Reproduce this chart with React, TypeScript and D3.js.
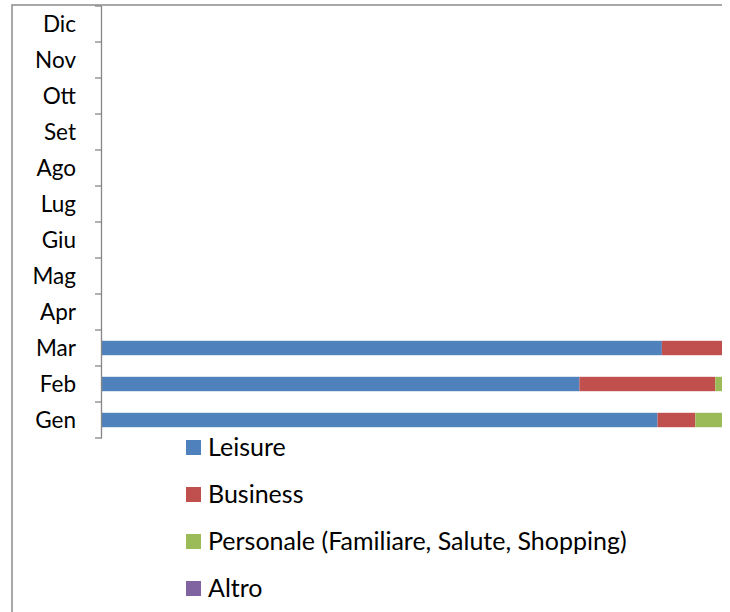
import React, { useRef, useEffect } from 'react';
import * as d3 from 'd3';

const months = ['Gen', 'Feb', 'Mar', 'Apr', 'Mag', 'Giu', 'Lug', 'Ago', 'Set', 'Ott', 'Nov', 'Dic'];
const seriesNames = ['Leisure', 'Business', 'Personale (Familiare, Salute, Shopping)', 'Altro'];
const seriesColors = ['#4f81bd', '#c0504d', '#9bbb59', '#8064a2'];

// quote per mese (solo i primi tre mesi hanno dati)
const leisure = [89.6, 77.0, 90.3, 0, 0, 0, 0, 0, 0, 0, 0, 0];
const business = [6.1, 21.9, 9.7, 0, 0, 0, 0, 0, 0, 0, 0, 0];
const personale = [4.3, 1.1, 0, 0, 0, 0, 0, 0, 0, 0, 0, 0];
const altro = [0, 0, 0, 0, 0, 0, 0, 0, 0, 0, 0, 0];

const WIDTH = 730;
const HEIGHT = 612;
const FONT = 'Lato, "Open Sans", sans-serif';

const App: React.FC = () => {
  const svgRef = useRef<SVGSVGElement>(null);

  useEffect(() => {
    if (!svgRef.current) return;
    const svg = d3.select(svgRef.current);
    svg.selectAll('*').remove();

    const values = [leisure, business, personale, altro];
    const rows = months.map((m, i) => {
      const r: any = { month: m };
      seriesNames.forEach((s, j) => (r[s] = values[j][i]));
      return r;
    });
    // normalizza a 100%
    rows.forEach(r => {
      const tot = d3.sum(seriesNames, s => r[s]);
      seriesNames.forEach(s => (r[s] = tot > 0 ? r[s] / tot : 0));
    });

    const stacked = d3.stack<any>().keys(seriesNames)(rows);

    const x = d3.scaleLinear().domain([0, 1]).range([102, 722]);
    const y = d3.scaleBand()
      .domain([...months].reverse())
      .range([6, 438])
      .paddingInner(0.6)
      .paddingOuter(0.3);

    // bordo del grafico
    svg.append('path')
      .attr('d', `M12,${HEIGHT} L12,5 L722,5`)
      .attr('fill', 'none')
      .attr('stroke', '#8c8c8c')
      .attr('stroke-width', 1.5);

    svg.append('g')
      .selectAll('g')
      .data(stacked)
      .join('g')
      .attr('fill', (_, i) => seriesColors[i])
      .selectAll('rect')
      .data(d => d)
      .join('rect')
      .attr('x', d => x(d[0]))
      .attr('width', d => x(d[1]) - x(d[0]))
      .attr('y', d => y(d.data.month)!)
      .attr('height', y.bandwidth());

    // asse y
    const axis = svg.append('g');
    axis.append('line')
      .attr('x1', 101.5).attr('x2', 101.5)
      .attr('y1', 6).attr('y2', 438.5)
      .attr('stroke', '#868686').attr('stroke-width', 1.3);
    const step = y.step();
    axis.selectAll('line.tick')
      .data(d3.range(months.length + 1))
      .join('line')
      .attr('class', 'tick')
      .attr('x1', 95).attr('x2', 101.5)
      .attr('y1', i => 6 + i * step)
      .attr('y2', i => 6 + i * step)
      .attr('stroke', '#868686').attr('stroke-width', 1.3);
    axis.selectAll('text')
      .data(months)
      .join('text')
      .attr('x', 76)
      .attr('y', m => y(m)! + y.bandwidth() / 2)
      .attr('dy', '0.35em')
      .attr('text-anchor', 'end')
      .attr('font-family', FONT)
      .attr('font-size', 22.5)
      .attr('fill', '#000')
      .text(m => m);

    // legenda
    const legend = svg.append('g')
      .selectAll('g')
      .data(seriesNames)
      .join('g')
      .attr('transform', (_, i) => `translate(186, ${447 + i * 47})`);
    legend.append('rect')
      .attr('x', 0).attr('y', -7)
      .attr('width', 15).attr('height', 15)
      .attr('fill', (_, i) => seriesColors[i]);
    legend.append('text')
      .attr('x', 22)
      .attr('dy', '0.35em')
      .attr('font-family', FONT)
      .attr('font-size', 25)
      .attr('fill', '#000')
      .text(d => d);
  }, []);

  return (
    <svg
      ref={svgRef}
      width={WIDTH}
      height={HEIGHT}
      style={{ position: 'absolute', left: 0, top: 0, background: '#fff' }}
    />
  );
};

export default App;
